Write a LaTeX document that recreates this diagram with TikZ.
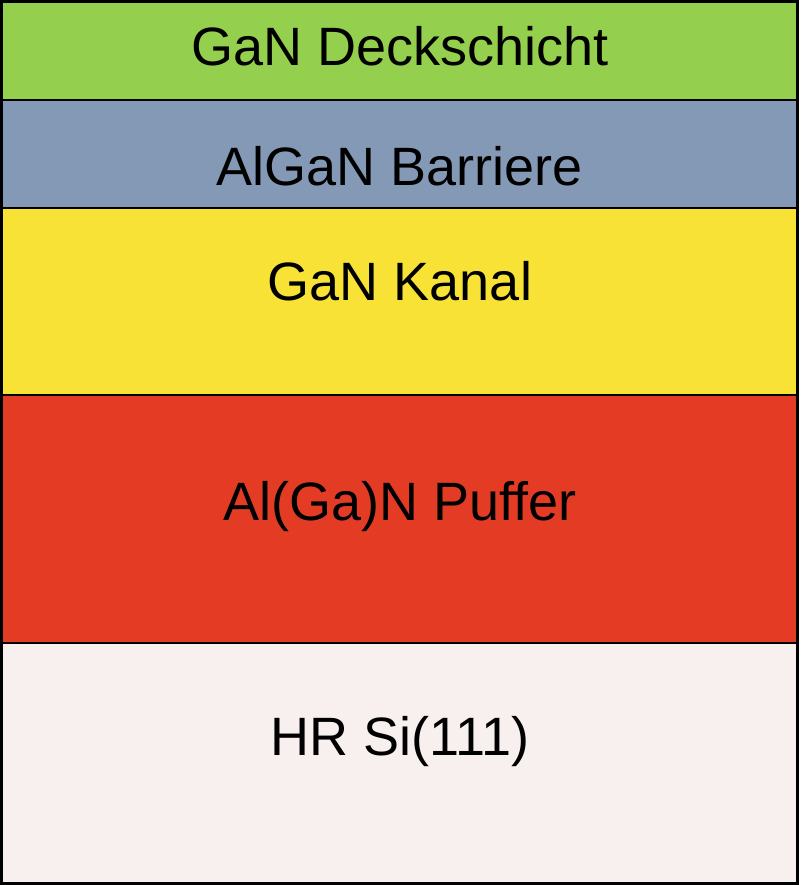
\documentclass[tikz,border=0pt]{standalone}
\usepackage{fontspec}
\setmainfont{Liberation Sans}
\definecolor{cgreen}{RGB}{148,208,78}
\definecolor{cblue}{RGB}{132,153,181}
\definecolor{cyellow}{RGB}{249,226,54}
\definecolor{cred}{RGB}{228,60,36}
\definecolor{clight}{RGB}{248,240,238}
\tikzset{
  layer/.style={draw=black, line width=1.9pt},
  lbl/.style={anchor=base, inner sep=0pt, font=\fontsize{40.5}{48}\selectfont, text=black}
}
\begin{document}
\begin{tikzpicture}[x=0.75pt,y=-0.75pt]
\useasboundingbox (0,0) rectangle (800,885);
\fill[white] (0,0) rectangle (800,885);
\draw[layer, fill=cgreen]  (1.5,1.5) rectangle (797.5,100);
\draw[layer, fill=cblue]   (1.5,100) rectangle (797.5,208);
\draw[layer, fill=cyellow] (1.5,208) rectangle (797.5,395);
\draw[layer, fill=cred]    (1.5,395) rectangle (797.5,643);
\draw[layer, fill=clight]  (1.5,643) rectangle (797.5,883.5);
\node[lbl] (deck) at (400,65) {GaN Deckschicht};
\node[lbl] (barr) at (400,185) {AlGaN Barriere};
\node[lbl] (kanal) at (400,300) {GaN Kanal};
\node[lbl] (puff) at (400,520) {Al(Ga)N Puffer};
\node[lbl] (si) at (400,755) {HR Si(111)};
\end{tikzpicture}
\end{document}
